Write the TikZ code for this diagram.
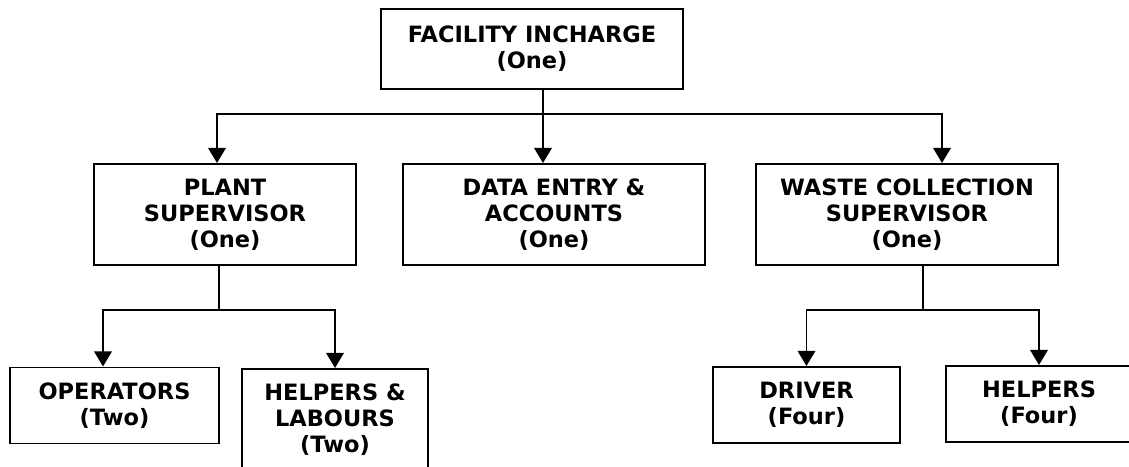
\documentclass[tikz,border=0pt]{standalone}
\usepackage{fontspec}
\setsansfont{DejaVu Sans}
\usetikzlibrary{arrows.meta}

\begin{document}
\begin{tikzpicture}[
      font=\sffamily\bfseries\fontsize{16}{18.5}\selectfont,
      line width=1.4pt,
      >={Triangle[width=4.4mm, length=3.8mm]},
      post/.style={draw=black, align=center, inner sep=0pt, minimum height=2.525cm},
      wide/.style={post, minimum width=7.55cm},
      small/.style={post, minimum height=1.9cm}
    ]
      \useasboundingbox (0, 0) rectangle (28.225, -11.65);
      \clip (0, 0) rectangle (28.225, -11.65);

      % top of the chart
      \node[wide, minimum height=2cm] (head) at (13.3, -1.225)
        {FACILITY INCHARGE\\(One)};

      % second row
      \node[post, minimum width=6.55cm] (plant) at (5.625, -5.3625)
        {PLANT\\SUPERVISOR\\(One)};
      \node[wide] (data) at (13.85, -5.3625)
        {DATA ENTRY \&\\ACCOUNTS\\(One)};
      \node[wide] (waste) at (22.675, -5.3625)
        {WASTE COLLECTION\\SUPERVISOR\\(One)};

      % third row
      \node[small, minimum width=5.225cm] (ops) at (2.8625, -10.1375)
        {OPERATORS\\(Two)};
      \node[post, minimum width=4.65cm] (labours) at (8.375, -10.4875)
        {HELPERS \&\\LABOURS\\(Two)};
      \node[small, minimum width=4.675cm] (driver) at (20.1625, -10.125)
        {DRIVER\\(Four)};
      \node[small, minimum width=4.65cm] (helpers) at (25.975, -10.1)
        {HELPERS\\(Four)};

      % branch points
      \coordinate (hub) at (13.575, -2.85);
      \coordinate (plantHub) at (5.475, -7.75);
      \coordinate (wasteHub) at (23.075, -7.75);

      \draw (head.south -| hub) -- (hub);
      \draw[->] (hub) -- (data.north -| hub);
      \draw[->] (hub) -| ([xshift=-0.2cm]plant.north);
      \draw[->] (hub) -| ([xshift=0.875cm]waste.north);

      \draw (plant.south -| plantHub) -- (plantHub);
      \draw[->] (plantHub) -| ([xshift=-0.2875cm]ops.north);
      \draw[->] (plantHub) -| (labours.north);

      \draw (waste.south -| wasteHub) -- (wasteHub);
      \draw[->] (wasteHub) -| (driver.north);
      \draw[->] (wasteHub) -| (helpers.north);
    \end{tikzpicture}
\end{document}
